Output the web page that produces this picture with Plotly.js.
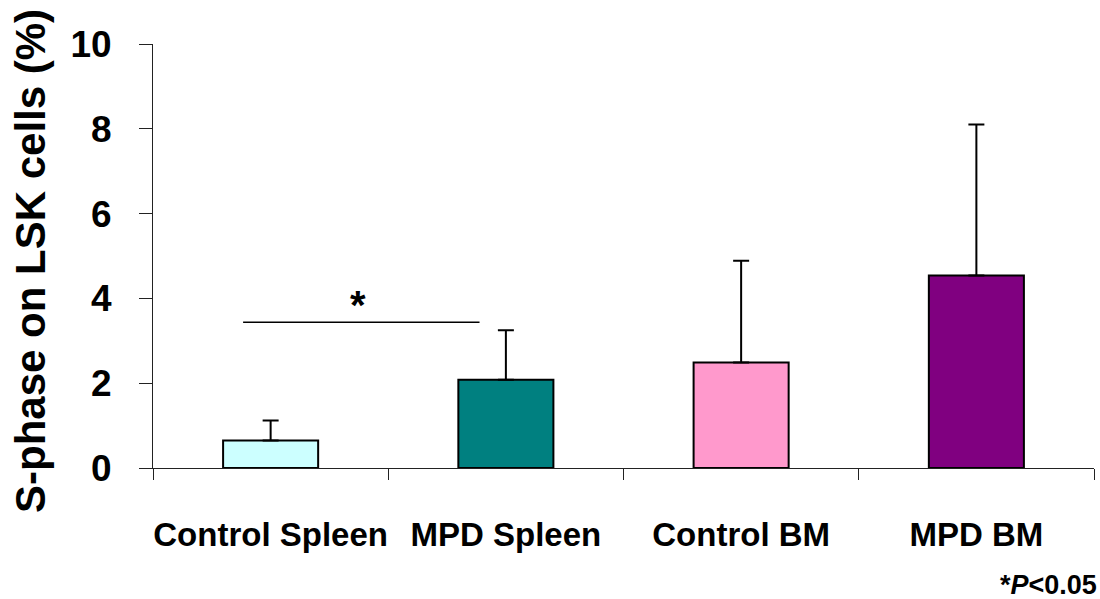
<!DOCTYPE html>
<html>
<head>
<meta charset="utf-8">
<script src="https://cdn.plot.ly/plotly-3.0.1.min.js"></script>
<style>
html,body{margin:0;padding:0;background:#fff;}
#chart{width:1100px;height:599px;}
</style>
</head>
<body>
<div id="chart"></div>
<script>
const categories = ['Control Spleen', 'MPD Spleen', 'Control BM', 'MPD BM'];
const meanValues = [0.65, 2.08, 2.49, 4.54];
const errorPlus = [0.47, 1.17, 2.40, 3.56];
const errorMinus = [0, 0, 0, 0];
const barColors = ['#CCFFFF', '#008080', '#FF99CC', '#800080'];
const yTickValues = [0, 2, 4, 6, 8, 10];
const yTitle = 'S-phase on LSK cells (%)';
const sigLineX = [-0.117, 0.888];
const sigLineY = 3.44;
const sigStarX = 0.37;
const sigStarY = 3.85;
const sigNote = '*<i>P</i>&lt;0.05';

const FONT = 'Liberation Sans, Arial, Helvetica, sans-serif';

const trace = {
  type: 'bar',
  x: categories,
  y: meanValues,
  width: 0.404,
  marker: { color: barColors, line: { color: '#000', width: 2 } },
  error_y: {
    type: 'data', symmetric: false,
    array: errorPlus, arrayminus: errorMinus,
    color: '#000', thickness: 2, width: 8
  },
  hoverinfo: 'none'
};

const layout = {
  width: 1100, height: 599,
  margin: { l: 153, r: 6, t: 44, b: 131 },
  paper_bgcolor: '#fff', plot_bgcolor: '#fff',
  showlegend: false,
  bargap: 0.6,
  xaxis: {
    type: 'category',
    tickson: 'boundaries',
    tickangle: 0,
    automargin: false,
    ticks: 'outside', ticklen: 11, tickwidth: 1, tickcolor: '#222',
    showline: true, linecolor: '#222', linewidth: 1,
    showgrid: false, zeroline: false,
    ticklabelstandoff: 37,
    tickfont: { family: FONT, size: 33, color: '#000', weight: 'bold' },
    range: [-0.5, 3.5]
  },
  yaxis: {
    range: [0, 10],
    tickvals: yTickValues,
    automargin: false,
    ticks: 'outside', ticklen: 13, tickwidth: 1, tickcolor: '#222',
    showline: true, linecolor: '#222', linewidth: 1,
    showgrid: false, zeroline: false,
    ticklabelstandoff: 20,
    tickfont: { family: FONT, size: 37, color: '#000', weight: 'bold' }
  },
  shapes: [{
    type: 'line', xref: 'x', yref: 'y',
    x0: sigLineX[0], x1: sigLineX[1], y0: sigLineY, y1: sigLineY,
    line: { color: '#000', width: 1.5 }
  }],
  annotations: [
    {
      text: yTitle, textangle: -90,
      xref: 'paper', yref: 'paper', x: 0, y: 0.5,
      xanchor: 'center', yanchor: 'middle',
      xshift: -123, yshift: -5, showarrow: false,
      font: { family: FONT, size: 42, color: '#000', weight: 'bold' }
    },
    {
      text: '*', xref: 'x', yref: 'y', x: sigStarX, y: sigStarY,
      xanchor: 'center', yanchor: 'middle', showarrow: false,
      font: { family: FONT, size: 40, color: '#000', weight: 'bold' }
    },
    {
      text: sigNote, xref: 'paper', yref: 'paper', x: 1, y: 0,
      xanchor: 'right', yanchor: 'top', xshift: 5, yshift: -100,
      showarrow: false,
      font: { family: FONT, size: 27, color: '#000', weight: 'bold' }
    }
  ]
};

Plotly.newPlot('chart', [trace], layout, { staticPlot: true, displayModeBar: false });
</script>
</body>
</html>
